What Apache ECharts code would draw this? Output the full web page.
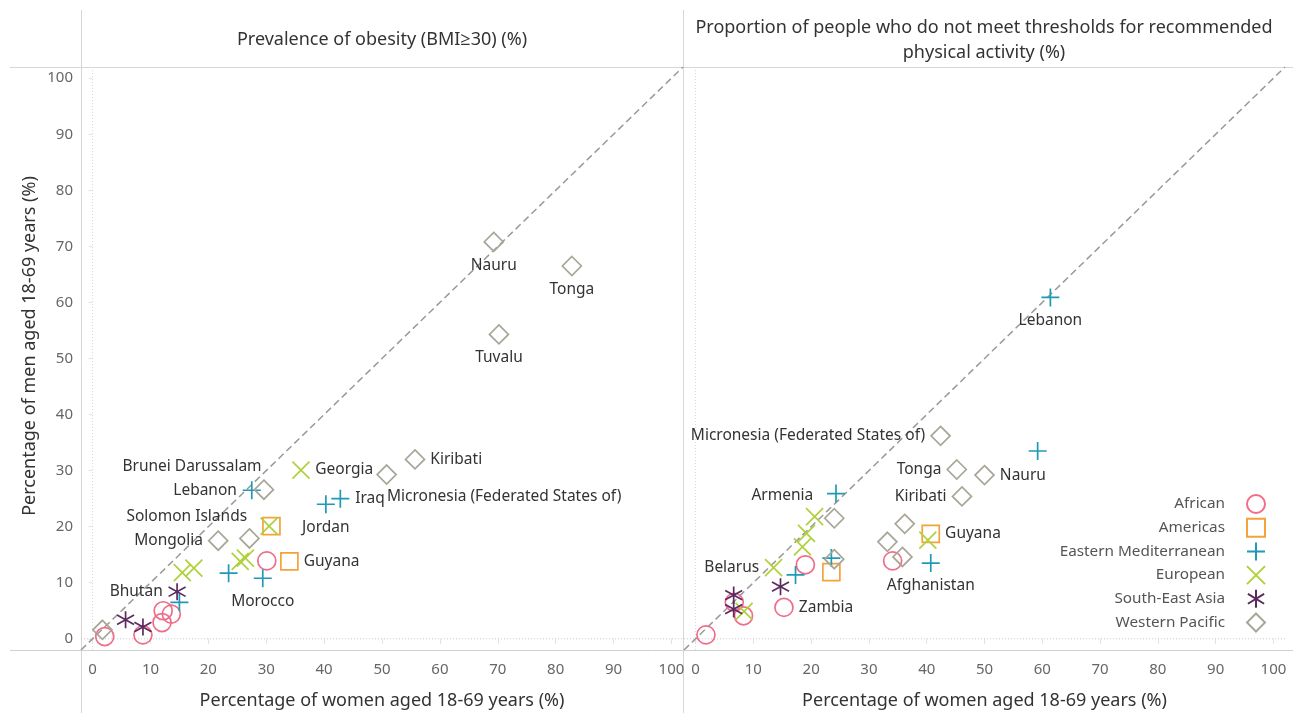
<!DOCTYPE html>
<html>
<head>
<meta charset="utf-8">
<script src="https://cdn.jsdelivr.net/npm/echarts@6/dist/echarts.min.js"></script>
<style>
html,body{margin:0;padding:0;background:#fff;}
#chart{width:1293px;height:713px;}
</style>
</head>
<body>
<div id="chart"></div>
<script>
// ---------- DATA ----------
const regions = ['African', 'Americas', 'Eastern Mediterranean', 'European', 'South-East Asia', 'Western Pacific'];
const panelTitles = ['Prevalence of obesity (BMI≥30) (%)', 'Proportion of people who do not meet thresholds for recommended\nphysical activity (%)'];
const xAxisTitle = 'Percentage of women aged 18-69 years (%)';
const yAxisTitle = 'Percentage of men aged 18-69 years (%)';
const tickValues = [0, 10, 20, 30, 40, 50, 60, 70, 80, 90, 100];

// [women %, men %, label]
const obesityAfrican = [[30.1, 13.9, ''], [12.2, 5.0, ''], [13.6, 4.4, ''], [12.0, 2.9, ''], [8.7, 0.7, ''], [2.1, 0.4, '']];
const obesityAmericas = [[30.9, 20.1, ''], [34.0, 13.8, 'Guyana']];
const obesityEastMed = [[27.5, 26.5, 'Lebanon'], [42.8, 25.0, 'Iraq'], [40.3, 24.0, 'Jordan'], [23.5, 11.7, ''], [29.4, 10.8, 'Morocco'], [15.0, 6.5, '']];
const obesityEuropean = [[36.0, 30.1, 'Georgia'], [30.5, 20.1, ''], [25.5, 13.8, ''], [26.4, 14.4, ''], [15.5, 11.8, ''], [17.5, 12.6, '']];
const obesitySEAsia = [[14.6, 8.4, 'Bhutan'], [5.7, 3.4, ''], [8.7, 2.1, '']];
const obesityWestPac = [[69.3, 70.8, 'Nauru'], [82.8, 66.5, 'Tonga'], [70.2, 54.3, 'Tuvalu'], [55.7, 32.0, 'Kiribati'], [50.8, 29.3, 'Micronesia (Federated States of)'], [29.6, 26.6, 'Brunei Darussalam'], [27.1, 17.9, 'Solomon Islands'], [21.7, 17.5, 'Mongolia'], [1.7, 1.6, '']];

const activityAfrican = [[19.0, 13.2, ''], [15.3, 5.6, 'Zambia'], [6.7, 6.5, ''], [8.3, 4.1, ''], [1.8, 0.7, ''], [34.1, 13.9, '']];
const activityAmericas = [[40.7, 18.7, 'Guyana'], [23.5, 11.9, '']];
const activityEastMed = [[61.4, 60.9, 'Lebanon'], [59.2, 33.5, ''], [24.3, 25.9, ''], [23.5, 14.4, ''], [17.3, 11.4, ''], [40.7, 13.5, 'Afghanistan']];
const activityEuropean = [[20.6, 21.8, 'Armenia'], [19.2, 18.8, ''], [18.5, 16.4, ''], [13.5, 12.7, 'Belarus'], [8.4, 4.9, ''], [40.2, 17.6, '']];
const activitySEAsia = [[14.7, 9.3, ''], [6.6, 7.8, ''], [6.6, 5.3, '']];
const activityWestPac = [[42.4, 36.2, 'Micronesia (Federated States of)'], [45.2, 30.2, 'Tonga'], [50.0, 29.2, 'Nauru'], [46.1, 25.4, 'Kiribati'], [24.0, 21.5, ''], [24.0, 14.2, ''], [36.2, 20.5, ''], [33.2, 17.3, ''], [35.8, 14.6, '']];

const panelData = [
  [obesityAfrican, obesityAmericas, obesityEastMed, obesityEuropean, obesitySEAsia, obesityWestPac],
  [activityAfrican, activityAmericas, activityEastMed, activityEuropean, activitySEAsia, activityWestPac]
];

// ---------- STYLE ----------
const FONT = '"Noto Sans", "Open Sans", sans-serif';
const regionStyle = {
  'African': { color: '#ef6d88', symbol: 'circle', size: 18 },
  'Americas': { color: '#f4a23c', symbol: 'path://M0,0L20,0L20,20L0,20Z', size: 17 },
  'Eastern Mediterranean': { color: '#1f9ab6', symbol: 'path://M10,0L10,20M0,10L20,10', size: 18 },
  'European': { color: '#afd13b', symbol: 'path://M0,0L20,20M20,0L0,20', size: 17 },
  'South-East Asia': { color: '#5b2b5f', symbol: 'path://M10,0L10,20M1,4.5L19,15.5M19,4.5L1,15.5', size: 17 },
  'Western Pacific': { color: '#a8a698', symbol: 'path://M10,0L20,10L10,20L0,10Z', size: 19 }
};
const labelPlacement = [
  {
    'Nauru': { position: 'bottom', distance: 5 },
    'Tonga': { position: 'bottom', distance: 5 },
    'Tuvalu': { position: 'bottom', distance: 5 },
    'Kiribati': { position: 'right' },
    'Micronesia (Federated States of)': { position: 'right', offset: [-15, 22] },
    'Georgia': { position: 'right' },
    'Iraq': { position: 'right' },
    'Jordan': { position: 'bottom', distance: 5 },
    'Guyana': { position: 'right' },
    'Morocco': { position: 'bottom', distance: 5 },
    'Lebanon': { position: 'left' },
    'Brunei Darussalam': { position: 'left', offset: [13, -23] },
    'Solomon Islands': { position: 'left', offset: [13, -22] },
    'Mongolia': { position: 'left' },
    'Bhutan': { position: 'left' }
  },
  {
    'Lebanon': { position: 'bottom', distance: 5 },
    'Micronesia (Federated States of)': { position: 'left' },
    'Tonga': { position: 'left' },
    'Nauru': { position: 'right' },
    'Kiribati': { position: 'left' },
    'Armenia': { position: 'left', offset: [13, -21] },
    'Guyana': { position: 'right' },
    'Afghanistan': { position: 'bottom', distance: 5 },
    'Belarus': { position: 'left' },
    'Zambia': { position: 'right' }
  }
];

const grids = [
  { left: 81, top: 67, width: 602, height: 583, outerBoundsMode: 'none', containLabel: false },
  { left: 684, top: 67, width: 601, height: 583, outerBoundsMode: 'none', containLabel: false }
];

const series = [];
[0, 1].forEach(p => {
  series.push({
    type: 'line', xAxisIndex: p, yAxisIndex: p, silent: true, symbol: 'none', z: 1,
    data: [[-2, -2], [102, 102]],
    lineStyle: { color: '#999999', width: 1.5, type: [7, 4] }
  });
  series.push({
    type: 'line', xAxisIndex: p, yAxisIndex: p, silent: true, symbol: 'none', z: 0,
    data: [[-2, 0], [102, 0]],
    lineStyle: { color: '#c8c8c8', width: 1, type: [1, 2] }
  });
  series.push({
    type: 'line', xAxisIndex: p, yAxisIndex: p, silent: true, symbol: 'none', z: 0,
    data: [[0, -2], [0, 102]],
    lineStyle: { color: '#d8d8d8', width: 1, type: [1, 2] }
  });
  regions.forEach((r, i) => {
    const st = regionStyle[r];
    series.push({
      name: r, type: 'scatter', xAxisIndex: p, yAxisIndex: p, z: 5,
      symbol: st.symbol, symbolSize: st.size,
      itemStyle: { color: 'rgba(0,0,0,0)', borderColor: st.color, borderWidth: 1.7, opacity: 1 },
      emphasis: { disabled: true },
      data: panelData[p][i].map(d => {
        const item = { value: [d[0], d[1]], name: d[2] };
        if (d[2]) {
          const pl = labelPlacement[p][d[2]] || { position: 'right' };
          item.label = Object.assign({
            show: true, formatter: '{b}', color: '#333', fontSize: 15.5, fontFamily: FONT, distance: 5
          }, pl);
        }
        return item;
      })
    });
  });
});

const axisCommon = {
  type: 'value', min: -2, max: 102,
  splitLine: { show: false },
  axisLine: { show: false }
};

const option = {
  animation: false,
  backgroundColor: '#ffffff',
  grid: grids,
  xAxis: [0, 1].map(p => Object.assign({}, axisCommon, {
    gridIndex: p,
    name: xAxisTitle, nameLocation: 'middle', nameGap: 42,
    nameTextStyle: { color: '#333', fontSize: 18, fontFamily: FONT },
    axisTick: { show: true, length: 5, lineStyle: { color: '#e2e2e2' }, customValues: tickValues },
    axisLabel: { color: '#666', fontSize: 15, fontFamily: FONT, margin: 12, customValues: tickValues, hideOverlap: false, showMaxLabel: true, showMinLabel: true }
  })),
  yAxis: [0, 1].map(p => Object.assign({}, axisCommon, {
    gridIndex: p,
    axisTick: { show: p === 0, length: 4, lineStyle: { color: '#e2e2e2' }, customValues: tickValues },
    axisLabel: { show: p === 0, color: '#666', fontSize: 15, fontFamily: FONT, margin: 8, customValues: tickValues }
  })),
  legend: {
    data: regions,
    orient: 'vertical', align: 'right',
    right: 27, top: 494, padding: 0,
    itemWidth: 18, itemHeight: 18, itemGap: 3.7,
    textStyle: { color: '#555', fontSize: 15.3, fontFamily: FONT, padding: [0, 17, 0, 0] },
    selectedMode: false
  },
  graphic: [
    { type: 'line', shape: { x1: 10, y1: 67.5, x2: 1293, y2: 67.5 }, style: { stroke: '#d6d6d6', lineWidth: 1 }, silent: true },
    { type: 'line', shape: { x1: 10, y1: 650.5, x2: 1293, y2: 650.5 }, style: { stroke: '#d0d0d0', lineWidth: 1 }, silent: true },
    { type: 'line', shape: { x1: 81.5, y1: 10, x2: 81.5, y2: 713 }, style: { stroke: '#d6d6d6', lineWidth: 1 }, silent: true },
    { type: 'line', shape: { x1: 683.5, y1: 10, x2: 683.5, y2: 713 }, style: { stroke: '#d6d6d6', lineWidth: 1 }, silent: true },
    { type: 'text', x: 382, y: 40, silent: true, style: { text: panelTitles[0], fill: '#333', font: '18px ' + FONT, align: 'center', verticalAlign: 'middle' } },
    { type: 'text', x: 984, y: 40, silent: true, style: { text: panelTitles[1], fill: '#333', font: '18px ' + FONT, align: 'center', verticalAlign: 'middle', lineHeight: 25 } },
    { type: 'text', x: 30, y: 346, rotation: Math.PI / 2, silent: true, style: { text: yAxisTitle, fill: '#333', font: '18px ' + FONT, align: 'center', verticalAlign: 'middle' } }
  ],
  series: series
};

const chart = echarts.init(document.getElementById('chart'), null, { renderer: 'canvas' });
chart.setOption(option);
</script>
</body>
</html>
